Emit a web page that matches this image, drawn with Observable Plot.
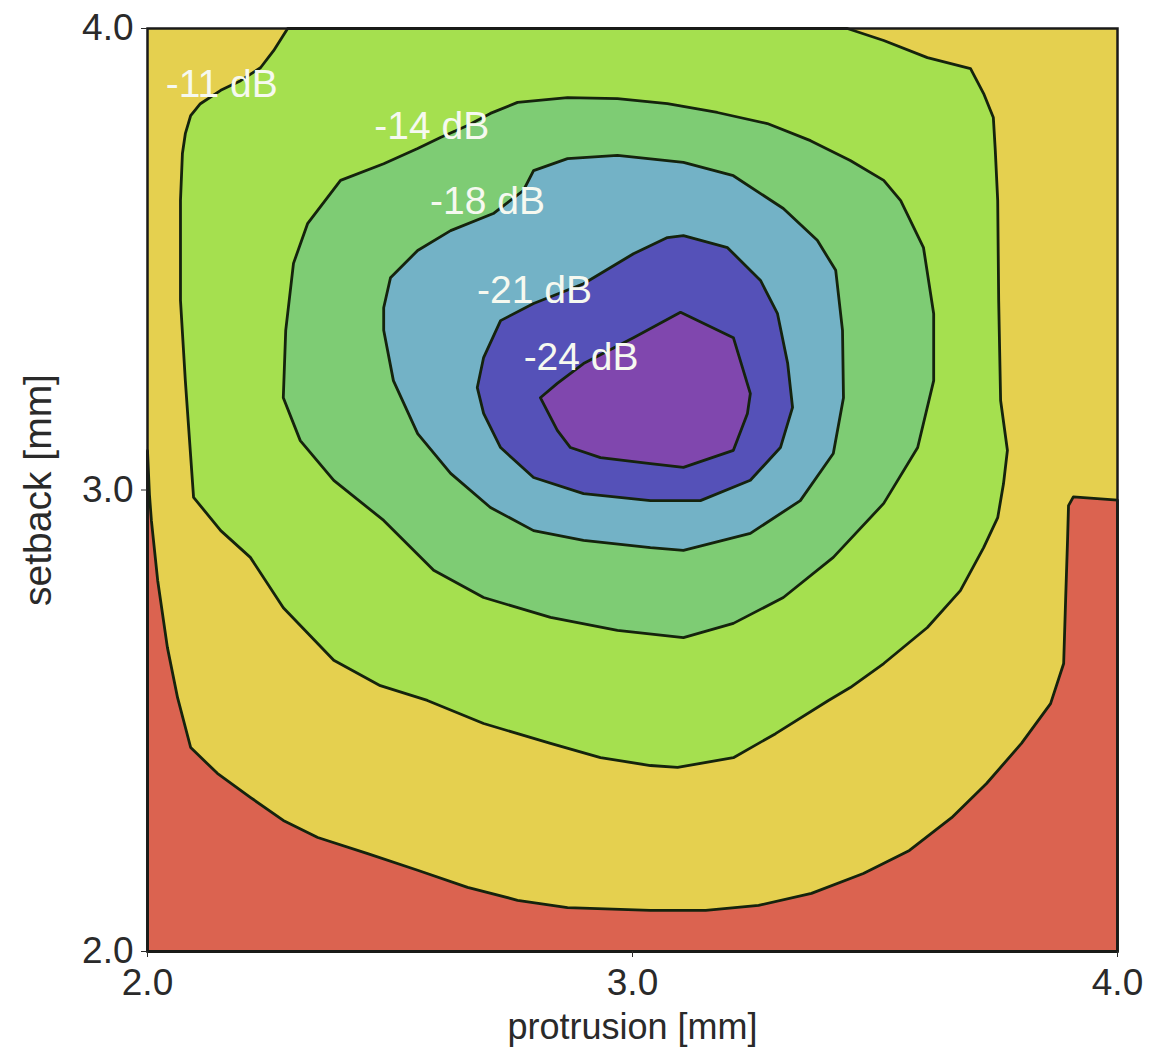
<!DOCTYPE html>
<html>
<head>
<meta charset="utf-8">
<script src="https://cdn.jsdelivr.net/npm/d3@7"></script>
<script src="https://cdn.jsdelivr.net/npm/@observablehq/plot@0.6"></script>
<style>
  html, body { margin: 0; padding: 0; background: #fff; }
  #chart svg { display: block; }
</style>
</head>
<body>
<div id="chart"></div>
<script>
// Axis ticks (mm)
const xTicks = [2.0, 3.0, 4.0];
const yTicks = [2.0, 3.0, 4.0];

// Contour region boundaries, [protrusion mm, setback mm]
// Red region (below the outermost, unlabeled level)
const regionRed = [
  [2.000, 3.085], [2.004, 2.990], [2.008, 2.934], [2.021, 2.804], [2.041, 2.659], [2.062, 2.550],
  [2.089, 2.442], [2.144, 2.386], [2.212, 2.334], [2.280, 2.284], [2.351, 2.247],
  [2.454, 2.212], [2.557, 2.176], [2.660, 2.139], [2.763, 2.111], [2.866, 2.095],
  [3.037, 2.089], [3.151, 2.089], [3.260, 2.100], [3.369, 2.126], [3.476, 2.169],
  [3.571, 2.219], [3.658, 2.290], [3.730, 2.364], [3.802, 2.451], [3.862, 2.537],
  [3.889, 2.624], [3.893, 2.761], [3.897, 2.891], [3.899, 2.966], [3.909, 2.985],
  [4.000, 2.978], [4.000, 2.000], [2.000, 2.000]
];
// -11 dB
const contour11 = [
  [2.289, 4.000], [2.260, 3.952], [2.233, 3.915], [2.192, 3.887], [2.151, 3.866],
  [2.109, 3.837], [2.089, 3.811], [2.078, 3.772], [2.072, 3.729], [2.068, 3.627],
  [2.068, 3.411], [2.078, 3.237], [2.095, 2.984], [2.151, 2.912], [2.212, 2.854],
  [2.280, 2.745], [2.384, 2.631], [2.480, 2.576], [2.577, 2.544], [2.693, 2.494],
  [2.831, 2.451], [2.934, 2.420], [3.037, 2.403], [3.093, 2.399], [3.208, 2.420],
  [3.295, 2.472], [3.404, 2.544], [3.449, 2.572], [3.518, 2.624], [3.608, 2.702],
  [3.676, 2.782], [3.724, 2.875], [3.753, 2.940], [3.765, 3.014], [3.773, 3.086],
  [3.759, 3.194], [3.755, 3.411], [3.753, 3.627], [3.748, 3.736], [3.744, 3.807],
  [3.724, 3.859], [3.697, 3.913], [3.608, 3.937], [3.518, 3.974], [3.443, 4.000]
];
// -14 dB
const contour14 = [
  [2.398, 3.671], [2.487, 3.707], [2.557, 3.740], [2.604, 3.764], [2.660, 3.790],
  [2.707, 3.816], [2.763, 3.840], [2.866, 3.850], [2.969, 3.848], [3.072, 3.837],
  [3.175, 3.818], [3.278, 3.794], [3.367, 3.757], [3.449, 3.714], [3.518, 3.671],
  [3.553, 3.627], [3.600, 3.525], [3.621, 3.382], [3.621, 3.237], [3.588, 3.092],
  [3.518, 2.971], [3.414, 2.854], [3.311, 2.767], [3.208, 2.711], [3.105, 2.680],
  [2.969, 2.696], [2.831, 2.724], [2.693, 2.767], [2.590, 2.826], [2.487, 2.934],
  [2.384, 3.021], [2.315, 3.107], [2.280, 3.200], [2.285, 3.346], [2.301, 3.491],
  [2.330, 3.577]
];
// -18 dB
const contour18 = [
  [2.487, 3.395], [2.501, 3.460], [2.557, 3.519], [2.625, 3.562], [2.713, 3.599],
  [2.775, 3.649], [2.796, 3.692], [2.866, 3.718], [2.969, 3.725], [3.105, 3.710],
  [3.208, 3.681], [3.311, 3.610], [3.381, 3.541], [3.419, 3.476], [3.433, 3.346],
  [3.435, 3.200], [3.414, 3.079], [3.346, 2.977], [3.243, 2.906], [3.105, 2.869],
  [3.037, 2.875], [2.899, 2.891], [2.796, 2.912], [2.707, 2.962], [2.625, 3.036],
  [2.557, 3.122], [2.507, 3.237], [2.487, 3.346]
];
// -21 dB
const contour21 = [
  [2.728, 3.367], [2.796, 3.404], [2.899, 3.447], [3.002, 3.512], [3.072, 3.547],
  [3.105, 3.551], [3.196, 3.525], [3.264, 3.454], [3.299, 3.382], [3.320, 3.274],
  [3.330, 3.179], [3.305, 3.092], [3.243, 3.021], [3.140, 2.977], [3.037, 2.977],
  [2.899, 2.992], [2.796, 3.027], [2.728, 3.092], [2.693, 3.166], [2.680, 3.222],
  [2.693, 3.287]
];
// -24 dB
const contour24 = [
  [2.810, 3.200], [2.845, 3.231], [2.899, 3.274], [3.002, 3.330], [3.099, 3.385],
  [3.208, 3.330], [3.243, 3.209], [3.237, 3.166], [3.208, 3.086], [3.105, 3.049],
  [3.037, 3.057], [2.934, 3.070], [2.872, 3.092], [2.845, 3.129]
];

// Contour labels
const labelText = ["-11 dB", "-14 dB", "-18 dB", "-21 dB", "-24 dB"];
const labelX = [2.153, 2.586, 2.701, 2.798, 2.894];
const labelY = [3.878, 3.788, 3.625, 3.432, 3.287];

const labels = labelText.map((t, i) => ({text: t, x: labelX[i], y: labelY[i]}));

const regions = [regionRed, contour11, contour14, contour18, contour21, contour24];
const fills = ["#db6350", "#a5e04f", "#7ecc74", "#73b2c6", "#5551b8", "#8047ae"];

const lineStroke = "#15230d";

const marks = [
  Plot.frame({fill: "#e5d04f"}),
  ...regions.map((pts, i) => Plot.line(pts, {
    x: d => d[0], y: d => d[1],
    fill: fills[i], stroke: lineStroke, strokeWidth: 2.8,
    curve: "linear-closed", strokeLinejoin: "round"
  })),
  Plot.frame({stroke: "#1a1a1a", strokeWidth: 2.5}),
  Plot.text(labels, {
    x: "x", y: "y", text: "text", fill: "#f6f9f0", fontSize: 39,
    textAnchor: "middle"
  }),
  Plot.axisX(xTicks, {
    tickFormat: d => d.toFixed(1), tickSize: 6, tickPadding: 11,
    fontSize: 37, label: null, color: "#2a2a2a"
  }),
  Plot.axisY(yTicks, {
    tickFormat: d => d.toFixed(1), tickSize: 6, tickPadding: 8,
    fontSize: 37, label: null, color: "#2a2a2a"
  }),
  Plot.text(["protrusion [mm]"], {
    frameAnchor: "bottom", dy: 87, fontSize: 36, fill: "#2a2a2a", textAnchor: "middle"
  }),
  Plot.text(["setback [mm]"], {
    frameAnchor: "left", dx: -109, rotate: -90, fontSize: 39, fill: "#2a2a2a", textAnchor: "middle"
  })
];

const chart = Plot.plot({
  width: 1149,
  height: 1059,
  marginLeft: 147,
  marginRight: 32,
  marginTop: 28,
  marginBottom: 108,
  style: {fontFamily: "'Liberation Sans', Arial, sans-serif", background: "#fff", color: "#2a2a2a"},
  x: {domain: [2, 4]},
  y: {domain: [2, 4]},
  marks
});
document.getElementById("chart").append(chart);
</script>
</body>
</html>
